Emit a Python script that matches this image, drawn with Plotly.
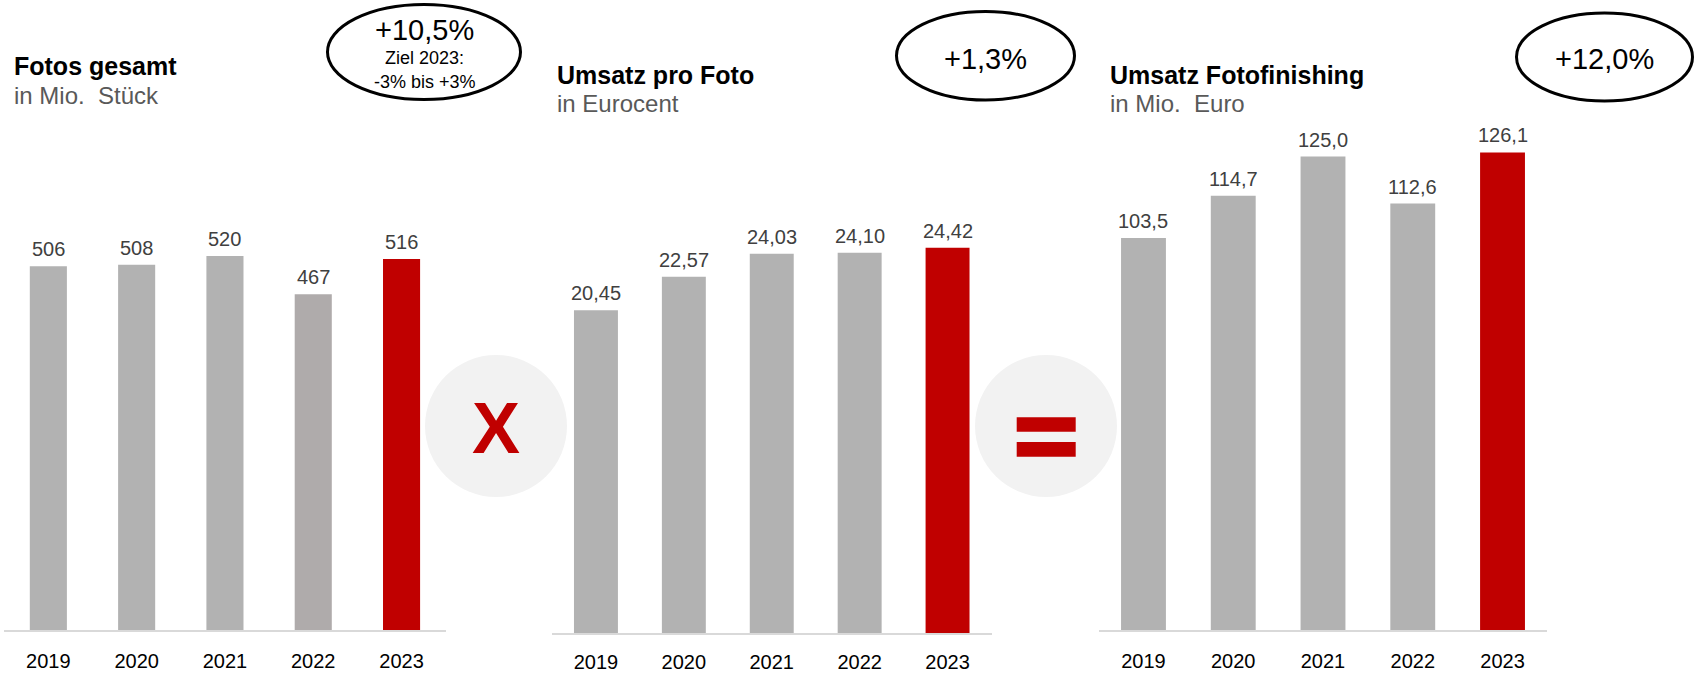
import plotly.graph_objects as go

W, H = 1702, 673
FONT = "Liberation Sans, Arial, sans-serif"

years = ["2019", "2020", "2021", "2022", "2023"]
fotos = [506, 508, 520, 467, 516]
umsatz_pro_foto = [20.45, 22.57, 24.03, 24.10, 24.42]
umsatz_fotofinishing = [103.5, 114.7, 125.0, 112.6, 126.1]

fotos_colors = ["#B2B2B2", "#B2B2B2", "#B2B2B2", "#AFABAB", "#C00000"]
std_colors = ["#B2B2B2", "#B2B2B2", "#B2B2B2", "#B2B2B2", "#C00000"]

titles = ["Fotos gesamt", "Umsatz pro Foto", "Umsatz Fotofinishing"]
subtitles = ["in Mio.  Stück", "in Eurocent", "in Mio.  Euro"]
growth = ["+10,5%", "+1,3%", "+12,0%"]
target_lines = ["Ziel 2023:", "-3% bis +3%"]


def px(x):
    return x / W


def py(y):
    return 1 - y / H


def fmt(v, d):
    return f"{v:.{d}f}".replace(".", ",")


fig = go.Figure()
shapes = []
annotations = []

panels = [
    dict(vals=fotos, colors=fotos_colors, dec=0, width=0.42,
         xdom=(4.2, 445.7), base=630, top=130, ppu=0.719, standoff=12),
    dict(vals=umsatz_pro_foto, colors=std_colors, dec=2, width=0.5,
         xdom=(552, 991.5), base=633, top=130, ppu=15.78, standoff=10),
    dict(vals=umsatz_fotofinishing, colors=std_colors, dec=1, width=0.5,
         xdom=(1098.6, 1547.4), base=630, top=130, ppu=3.787, standoff=12),
]

for i, p in enumerate(panels):
    sfx = "" if i == 0 else str(i + 1)
    fig.add_trace(go.Bar(
        x=years, y=p["vals"],
        marker=dict(color=p["colors"], line=dict(width=0)),
        width=p["width"],
        hoverinfo="skip",
        xaxis="x" + sfx, yaxis="y" + sfx,
        showlegend=False,
    ))
    for k, v in enumerate(p["vals"]):
        annotations.append(dict(
            x=k, y=v, xref="x" + sfx, yref="y" + sfx,
            text=fmt(v, p["dec"]), showarrow=False,
            xanchor="center", yanchor="middle", yshift=17,
            font=dict(family=FONT, size=20, color="#404040"),
        ))
    ymax = (p["base"] - p["top"]) / p["ppu"]
    fig.layout["xaxis" + sfx] = dict(
        domain=[px(p["xdom"][0]), px(p["xdom"][1])],
        type="category", categoryorder="array", categoryarray=years,
        range=[-0.5, len(years) - 0.5], autorange=False,
        anchor="y" + sfx,
        showline=True, linecolor="#D9D9D9", linewidth=2,
        showgrid=False, zeroline=False, ticks="",
        tickfont=dict(family=FONT, size=20, color="#000000"),
        ticklabelstandoff=p["standoff"],
        fixedrange=True,
    )
    fig.layout["yaxis" + sfx] = dict(
        domain=[py(p["base"]), py(p["top"])],
        range=[0, ymax], autorange=False, anchor="x" + sfx,
        visible=False, fixedrange=True,
    )

# titles
title_pos = [(13.3, 65.8, 95.3), (556, 74.7, 103.3), (1108.6, 74.5, 103.5)]
for (x, ty, sy), t, s in zip(title_pos, titles, subtitles):
    annotations.append(dict(x=px(x), y=py(ty), xref="paper", yref="paper",
                            text=f"<b>{t}</b>", showarrow=False,
                            xanchor="left", yanchor="middle", borderpad=0,
                            font=dict(family=FONT, size=25, color="#000000")))
    annotations.append(dict(x=px(x), y=py(sy), xref="paper", yref="paper",
                            text=s.replace("  ", "&nbsp; "), showarrow=False,
                            xanchor="left", yanchor="middle", borderpad=0,
                            font=dict(family=FONT, size=24, color="#595959")))

# growth ellipses
ellipses = [(327.5, 4.5, 520.5, 99.5), (896.5, 11.5, 1074.5, 100), (1516.5, 13, 1692.5, 101)]
for (x0, y0, x1, y1) in ellipses:
    shapes.append(dict(type="circle", xref="paper", yref="paper",
                       x0=px(x0), x1=px(x1), y0=py(y1), y1=py(y0),
                       line=dict(color="#000000", width=3), fillcolor="rgba(0,0,0,0)"))

growth_pos = [(424, 30.3), (985, 59), (1604, 59)]
for (x, y), g in zip(growth_pos, growth):
    annotations.append(dict(x=px(x), y=py(y), xref="paper", yref="paper",
                            text=g, showarrow=False, xanchor="center", yanchor="middle",
                            font=dict(family=FONT, size=29, color="#000000")))
for (y, t) in zip([57.5, 81.7], target_lines):
    annotations.append(dict(x=px(424.5), y=py(y), xref="paper", yref="paper",
                            text=t, showarrow=False, xanchor="center", yanchor="middle",
                            font=dict(family=FONT, size=18, color="#000000")))

# operator circles
for cx in (496, 1046):
    shapes.append(dict(type="circle", xref="paper", yref="paper",
                       x0=px(cx - 71), x1=px(cx + 71), y0=py(497), y1=py(355),
                       line=dict(width=0), fillcolor="#F2F2F2", layer="below"))

annotations.append(dict(x=px(495.5), y=py(428), xref="paper", yref="paper",
                        text="<b>X</b>", showarrow=False, xanchor="center", yanchor="middle",
                        font=dict(family=FONT, size=72, color="#C00000")))
for (y0, y1) in [(417.3, 431.7), (442, 456.7)]:
    shapes.append(dict(type="rect", xref="paper", yref="paper",
                       x0=px(1016.7), x1=px(1075.7), y0=py(y1), y1=py(y0),
                       line=dict(width=0), fillcolor="#C00000"))

fig.update_layout(
    width=W, height=H,
    margin=dict(l=0, r=0, t=0, b=0, autoexpand=False),
    paper_bgcolor="#FFFFFF", plot_bgcolor="rgba(0,0,0,0)",
    shapes=shapes, annotations=annotations,
    showlegend=False,
    font=dict(family=FONT),
)

fig.write_html("out.html", config={"displayModeBar": False, "staticPlot": True},
               post_script="document.body.style.margin='0px';document.documentElement.style.overflow='hidden';")
